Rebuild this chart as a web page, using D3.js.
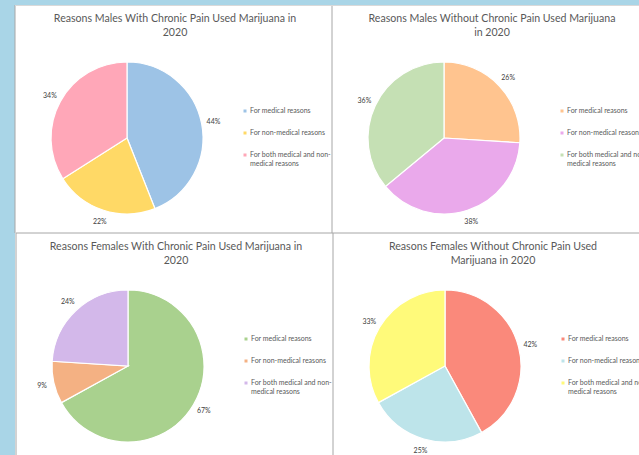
<!DOCTYPE html>
<html>
<head>
<meta charset="utf-8">
<script src="https://cdn.jsdelivr.net/npm/d3@7"></script>
<style>
  body { margin: 0; background: #a9d5e7; }
  svg { display: block; font-family: Lato, "Open Sans", sans-serif; }
</style>
</head>
<body>
<svg id="drawing-area"></svg>
<script>
// data
var categories = ["For medical reasons", "For non-medical reasons", "For both medical and non-medical reasons"];
var titles = [
  ["Reasons Males With Chronic Pain Used Marijuana in", "2020"],
  ["Reasons Males Without Chronic Pain Used Marijuana", "in 2020"],
  ["Reasons Females With Chronic Pain Used Marijuana in", "2020"],
  ["Reasons Females Without Chronic Pain Used", "Marijuana in 2020"]
];
var malesWithPain = [44, 22, 34];
var malesWithoutPain = [26, 38, 36];
var femalesWithPain = [67, 9, 24];
var femalesWithoutPain = [42, 25, 33];

var palettes = [
  ["#9dc3e6", "#ffd966", "#ffa7b8"],
  ["#ffc48f", "#eaa9eb", "#c5e0b4"],
  ["#a9d18e", "#f4b183", "#d3b8ea"],
  ["#fa897b", "#bde4ea", "#fffa7a"]
];

var width = 639;
var height = 455;
var radius = 76;

var panels = [
  {x: 15, y: 5, values: malesWithPain},
  {x: 332, y: 5, values: malesWithoutPain},
  {x: 16, y: 233, values: femalesWithPain},
  {x: 333, y: 233, values: femalesWithoutPain}
];

var da = d3.select("#drawing-area")
    .attr("width", width)
    .attr("height", height);

// white sheet behind the charts
da.append("rect")
    .attr("x", 15).attr("y", 5)
    .attr("width", width - 15).attr("height", height - 5)
    .attr("fill", "#ffffff");

var pie = d3.pie().sort(null).value(function(d){ return d; });
var arc = d3.arc().innerRadius(0).outerRadius(radius);
var labelArc = d3.arc().innerRadius(88).outerRadius(88);

panels.forEach(function(p, i){
  var g = da.append("g")
      .attr("transform", "translate(" + p.x + "," + p.y + ")");

  g.selectAll(".title")
      .data(titles[i])
      .enter()
      .append("text")
      .attr("class", "title")
      .attr("x", 160)
      .attr("y", function(d, k){ return 17 + k * 14; })
      .attr("text-anchor", "middle")
      .style("font-size", "10.6px")
      .style("font-weight", 400)
      .style("fill", "#595959")
      .text(function(d){ return d; });

  var pg = g.append("g").attr("transform", "translate(112,133)");
  var arcs = pie(p.values);

  pg.selectAll("path")
      .data(arcs)
      .enter()
      .append("path")
      .attr("d", arc)
      .attr("fill", function(d, k){ return palettes[i][k]; })
      .attr("stroke", "#ffffff")
      .attr("stroke-width", 1.2);

  pg.selectAll(".pct")
      .data(arcs)
      .enter()
      .append("text")
      .attr("class", "pct")
      .attr("transform", function(d){ return "translate(" + labelArc.centroid(d) + ")"; })
      .attr("text-anchor", "middle")
      .attr("dy", "0.35em")
      .style("font-size", "7px")
      .style("fill", "#404040")
      .text(function(d){ return d.data + "%"; });

  var lg = g.append("g").attr("transform", "translate(230,106)");
  var rows = lg.selectAll(".leg")
      .data(categories)
      .enter()
      .append("g")
      .attr("class", "leg")
      .attr("transform", function(d, k){ return "translate(0," + (k * 22) + ")"; });

  rows.append("rect")
      .attr("x", -1.5).attr("y", -1.5)
      .attr("width", 3).attr("height", 3)
      .attr("fill", function(d, k){ return palettes[i][k]; });

  rows.append("text")
      .attr("x", 5)
      .style("font-size", "7px")
      .style("fill", "#595959")
      .each(function(d){
        var t = d3.select(this);
        var parts = d.length > 30 ? ["For both medical and non-", "medical reasons"] : [d];
        parts.forEach(function(s, k){
          t.append("tspan").attr("x", 5).attr("dy", k === 0 ? "0.35em" : "9px").text(s);
        });
      });
});

// panel borders
var lines = [
  [332, 5, 332, 233],
  [16, 233, width, 233],
  [16, 233, 16, height],
  [333, 233, 333, height],
  [15, 5, 15, 233]
];
da.selectAll(".border")
    .data(lines)
    .enter()
    .append("line")
    .attr("class", "border")
    .attr("x1", function(d){ return d[0]; })
    .attr("y1", function(d){ return d[1]; })
    .attr("x2", function(d){ return d[2]; })
    .attr("y2", function(d){ return d[3]; })
    .attr("stroke", "#a6a6a6")
    .attr("stroke-width", 1);

da.append("line")
    .attr("x1", 15).attr("y1", 5.5).attr("x2", width).attr("y2", 5.5)
    .attr("stroke", "#d9d9d9");
</script>
</body>
</html>
